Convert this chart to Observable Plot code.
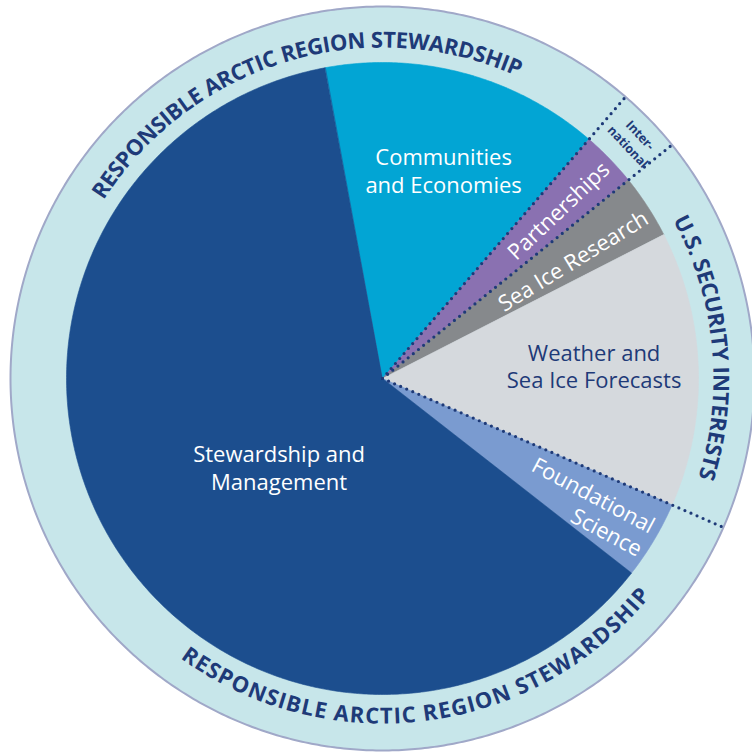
<!DOCTYPE html>
<html>
<head>
<meta charset="utf-8">
<script src="https://cdn.jsdelivr.net/npm/d3@7"></script>
<script src="https://cdn.jsdelivr.net/npm/@observablehq/plot@0.6"></script>
<style>
  html, body { margin: 0; padding: 0; background: #fff; }
  #chart svg { display: block; }
</style>
</head>
<body>
<div id="chart"></div>
<script>
// ---------- data ----------
const categories = ["Communities and Economies", "Partnerships", "Sea Ice Research",
  "Weather and Sea Ice Forecasts", "Foundational Science", "Stewardship and Management"];
const shares = [14.25, 2.86, 3.28, 14.08, 4.0, 61.53];           // percent of the circle
const sliceLabelText = ["Communities\nand Economies", "Partnerships", "Sea Ice Research",
  "Weather and\nSea Ice Forecasts", "Foundational\nScience", "Stewardship and\nManagement"];
const ringGroups = ["RESPONSIBLE ARCTIC REGION STEWARDSHIP", "Inter-\nnational", "U.S. SECURITY INTERESTS"];
const dottedAfter = [0, 1, 3];   // group boundaries follow these slices

// ---------- styles / layout ----------
const sliceColors = ["#02a5d4", "#8a71b1", "#86898c", "#d5d9dd", "#7a9bd0", "#1c4e8e"];
const navy = "#1e3a78";
const ringFill = "#c7e6ea", ringStroke = "#a0a8c8";
const W = 752, H = 754, CX = 382, CY = 378;
const R = 316, R2 = 372, ringTextR = 338;
const startAngle = -10.5;   // degrees clockwise from north
const ringFontSize = 22, labelFontSize = 22;

const rad = d => d * Math.PI / 180;
const px = (r, a) => r * Math.sin(rad(a));
const py = (r, a) => r * Math.cos(rad(a));

// slices
const total = d3.sum(shares);
let acc = startAngle;
const slices = categories.map((c, i) => {
  const a0 = acc, a1 = acc + shares[i] / total * 360;
  acc = a1;
  return {c, i, a0, a1, mid: (a0 + a1) / 2, color: sliceColors[i]};
});
const slicePts = slices.flatMap(s => {
  const n = Math.max(2, Math.ceil((s.a1 - s.a0) / 0.5));
  const pts = [{k: s.c, x: 0, y: 0, color: s.color}];
  for (let j = 0; j <= n; j++) {
    const a = s.a0 + (s.a1 - s.a0) * j / n;
    pts.push({k: s.c, x: px(R, a), y: py(R, a), color: s.color});
  }
  return pts;
});
const ringPts = d3.range(0, 360, 0.5).map(a => ({x: px(R2, a), y: py(R2, a)}));
const dotPts = dottedAfter.flatMap(i => {
  const a = slices[i].a1;
  return [{k: i, x: 0, y: 0}, {k: i, x: px(R2 - 2, a), y: py(R2 - 2, a)}];
});

// curved ring text
const canvas = document.createElement("canvas");
const ctx = canvas.getContext("2d");
ctx.font = `bold ${ringFontSize}px "Open Sans"`;
const ringTextSpecs = [
  {g: 0, center: -16.6, span: 81.6, dir: "cw"},
  {g: 0, center: 172.45, span: 86.9, dir: "ccw"},
  {g: 2, center: 84.4, span: 46.0, dir: "cw"}
];
const ringChars = ringTextSpecs.flatMap(spec => {
  const chars = [...ringGroups[spec.g]];
  const widths = chars.map(ch => ctx.measureText(ch).width);
  const arcLen = rad(spec.span) * ringTextR;
  const spacing = (arcLen - d3.sum(widths)) / (chars.length - 1);
  let cum = 0;
  return chars.map((ch, j) => {
    const s = cum + widths[j] / 2;
    cum += widths[j] + spacing;
    const da = s / ringTextR * 180 / Math.PI;
    const a = spec.dir === "cw" ? spec.center - spec.span / 2 + da : spec.center + spec.span / 2 - da;
    return {ch, x: px(ringTextR, a), y: py(ringTextR, a), rotate: spec.dir === "cw" ? a : a - 180};
  }).filter(d => d.ch !== " ");
});
const interAngle = slices[1].mid + 0.7;
const interLabel = [{text: ringGroups[1], x: px(347, interAngle), y: py(347, interAngle), rotate: interAngle}];

// slice labels
const labelLayout = [
  {r: 217, da: 1.2, mode: "h", fill: "#ffffff"},
  {r: 243, da: 0.55, mode: "radial", rot: 0, fill: "#ffffff"},
  {r: 224, da: 1.5, mode: "radial", rot: 0, fill: "#ffffff"},
  {r: 212, da: -1.75, mode: "h", fill: navy},
  {r: 309, da: 0.3, mode: "radialEnd", rot: -3, fill: "#ffffff"},
  {r: 136, da: -9.25, mode: "h", fill: "#ffffff"}
];
const labels = slices.map((s, i) => {
  const L = labelLayout[i];
  const a = s.mid + L.da;
  return {text: sliceLabelText[i], x: px(L.r, a), y: py(L.r, a), mode: L.mode,
    rotate: L.mode === "h" ? 0 : a - 90 + L.rot, fill: L.fill};
});

const chart = Plot.plot({
  width: W, height: H, margin: 0,
  x: {domain: [-CX, W - CX], axis: null},
  y: {domain: [-(H - CY), CY], axis: null},
  color: {type: "identity"},
  style: {fontFamily: '"Open Sans", sans-serif', background: "#fff", overflow: "hidden"},
  marks: [
    Plot.line(ringPts, {x: "x", y: "y", curve: "linear-closed", fill: ringFill, stroke: ringStroke, strokeWidth: 2}),
    Plot.line(slicePts, {x: "x", y: "y", z: "k", fill: "color", stroke: "color", strokeWidth: 0.6, curve: "linear-closed"}),
    Plot.line(dotPts, {x: "x", y: "y", z: "k", stroke: navy, strokeWidth: 3.2, strokeDasharray: "0 6.6", strokeLinecap: "round"}),
    Plot.text(ringChars, {x: "x", y: "y", text: "ch", rotate: "rotate", fontSize: ringFontSize, fontWeight: "bold", fill: navy, lineAnchor: "middle"}),
    Plot.text(interLabel, {x: "x", y: "y", text: "text", rotate: "rotate", fontSize: 12.5, fontWeight: "bold", fill: navy, lineHeight: 1.35, lineAnchor: "middle"}),
    Plot.text(labels.filter(d => d.mode === "h"), {x: "x", y: "y", text: "text", fill: "fill", fontSize: labelFontSize, lineHeight: 1.27, lineAnchor: "middle"}),
    Plot.text(labels.filter(d => d.mode === "radial"), {x: "x", y: "y", text: "text", fill: "fill", rotate: "rotate", fontSize: labelFontSize, lineAnchor: "middle"}),
    Plot.text(labels.filter(d => d.mode === "radialEnd"), {x: "x", y: "y", text: "text", fill: "fill", rotate: "rotate", fontSize: labelFontSize, lineHeight: 1.2, lineAnchor: "middle", textAnchor: "end"})
  ]
});
document.getElementById("chart").appendChild(chart);
</script>
</body>
</html>
